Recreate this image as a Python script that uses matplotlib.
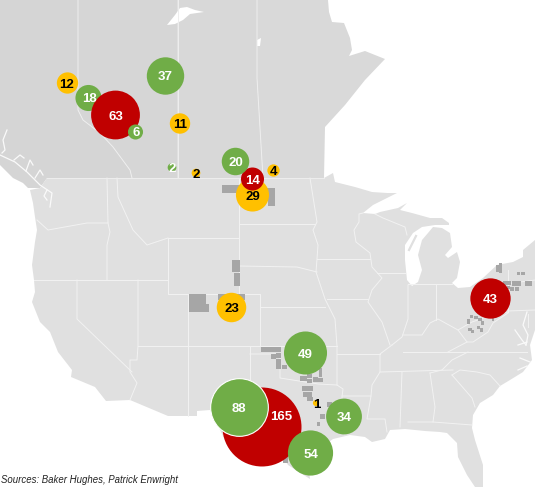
import numpy as np
import matplotlib
matplotlib.use("Agg")
import matplotlib.pyplot as plt
from matplotlib.patches import Polygon, Rectangle

# ---- rig counts -------------------------------------------------------
values = [165, 88, 63, 18, 12, 6, 37, 11, 2, 2, 20, 29, 14, 4, 23, 49, 1, 34, 54, 43]
kinds = ["oil_red", "green", "oil_red", "green", "amber", "green", "green", "amber", "green", "amber",
         "green", "amber", "oil_red", "amber", "amber", "green", "amber", "green", "green", "oil_red"]
xpos = [262, 239, 115.5, 88.5, 67.5, 135.5, 165.5, 180, 172, 196,
        235.5, 252.5, 252.5, 273.5, 231.5, 305.5, 316, 344, 310.5, 490.5]
ypos = [427, 407, 115, 98, 83, 132, 76, 123.5, 167.5, 173,
        161.5, 195, 179, 170.5, 307.5, 353, 403, 416.5, 453, 298.5]
label_x = [281, 239, 115.5, 89.5, 67, 136, 165.5, 180, 172, 196,
           235.5, 252.5, 253, 273, 231.5, 305.5, 316.5, 344, 310.5, 490.5]
label_y = [415, 407, 115, 98, 83, 132, 76, 123.5, 167.5, 173,
           161.5, 196, 179, 170.5, 307.5, 353, 403, 416.5, 453, 298.5]
palette = {"oil_red": "#C00000", "green": "#70AD47", "amber": "#FFC000"}
text_col = {"oil_red": "white", "green": "white", "amber": "black"}
draw_order = [11, 12, 10, 13, 3, 2, 5, 4, 6, 7, 8, 9, 14, 15, 0, 1, 16, 17, 18, 19]
source = "Sources: Baker Hughes, Patrick Enwright"

# ---- base map (pixel tracing of the reference) -------------------------
canada_bc = [(0,0),(78,0),(78,110),(83,120),(100,133),(113,147),(130,170),(132,178),(47,178),(40,188),(28,188),
             (23,183),(13,178),(0,165)]
canada_ab = [(78,0),(177.5,0),(177.5,178),(132,178),(130,170),(113,147),(100,133),(83,120),(78,110)]
canada_sk = [(177.5,0),(257,0),(257,78),(263,178),(177.5,178)]
canada_mb = [(257,0),(328,0),(329,12),(332,22),(344,23),(350,38),(352,50),(349,56),(365,51),(385,59),
             (365,80),(345,105),(325,127),(324,178),(263,178),(257,78)]
athabasca = [(167,25),(175,15),(180,8),(187,7),(195,10),(204,12),(190,14),(183,20),(175,24)]
reindeer = [(257,40),(261,38),(260,46),(257,46)]

usa = [(47,178),(309,178),(324,178),(333,173),(335,182),(355,187),(372,192),(387,193),(397,193),(373,205),(363,213),
       (375,214),(380,212),(398,208),(407,203),(400,210),(412,213),(430,218),(442,218),(449,223),(449,225),(435,225),
       (422,227),(413,233),(405,245),(405,260),(407,280),(412,286),(418,282),(422,270),(418,255),(422,240),(428,233),
       (433,227),(442,228),(450,233),(452,247),(445,255),(448,258),(457,252),(460,262),(457,278),(452,283),(458,288),
       (470,287),(483,278),(497,265),(513,262),(523,257),(523,250),(535,240),
       (535,330),(530,345),(532,360),(523,372),(510,380),(500,386),(493,395),(480,403),(473,415),(472,428),
       (475,440),(483,465),(483,487),(475,487),(467,475),(458,457),(457,443),(447,433),(440,432),(425,431),
       (405,429),(390,430),(385,439),(372,442),(365,437),(350,435),(333,439),(318,450),(308,462),(310,479),
       (288,465),(280,452),(265,445),(250,440),(225,440),(210,410),(197,411),(197,416),(168,416),(130,400),
       (106,401),(95,387),(71,377),(72,370),(58,352),(50,332),(40,322),(32,302),(35,292),(34,280),(32,265),
       (35,242),(37,230),(35,217),(33,203),(30,190),(40,188)]
door_peninsula = [(409,250),(416,236)]
inlets = [
    [(0,155),(15,162),(27,172),(40,185),(52,193),(50,207)],
    [(7,130),(3,140),(5,150),(2,153)],
    [(14,160),(20,155),(24,158)],
    [(26,171),(30,160),(33,165)],
    [(35,178),(40,170),(43,175)],
    [(47,190),(44,196),(47,200)],
    [(527,312),(523,325),(528,335),(526,345)],
    [(515,330),(522,340),(526,345)],
    [(518,345),(527,342)],
    [(520,358),(530,362)],
    [(518,370),(527,366)],
]
borders = [
    [(107,178),(108,223),(110,232),(107,245),(107,280)],
    [(117,178),(118,197),(133,230),(147,245),(168,238)],
    [(37,220),(48,230),(87,223),(108,223)],
    [(34,280),(168,280)],
    [(138,280),(138,346),(137,360),(130,360),(130,372),(137,383),(130,400)],
    [(77,280),(77,319),(132,372)],
    [(138,346),(250,346)],
    [(188,294),(188,416)],
    [(168,238),(168,294),(260,294),(260,346)],
    [(168,238),(239,238),(239,294)],
    [(239,178),(239,238)],
    [(239,224),(315,224)],
    [(310,178),(317,222),(313,230),(318,245),(317,259),(316,272),(325,299),(335,319),(337,346),(337,385)],
    [(239,266),(297,267),(317,272)],
    [(317,259),(370,259)],
    [(260,307),(325,307)],
    [(250,346),(337,346)],
    [(337,354),(380,354)],
    [(250,346),(250,410)],
    [(250,354),(280,354),(280,378),(318,384),(337,385),(343,389),(342,397),(343,409),(345,435)],
    [(342,396),(371,396),(367,419),(385,419),(387,432)],
    [(392,345),(380,354),(380,372),(372,385),(371,396)],
    [(380,372),(453,370)],
    [(402,372),(400,427)],
    [(430,373),(435,407),(433,422)],
    [(408,422),(433,422),(472,425)],
    [(403,352),(527,352)],
    [(327,299),(368,299)],
    [(363,213),(359,214),(359,222),(354,230),(356,242),(370,253),(372,267),(382,278),(372,290),(368,302),
     (382,322),(390,345)],
    [(377,273),(405,273)],
    [(408,285),(408,319),(402,337),(392,345)],
    [(436,284),(436,320)],
    [(408,284),(452,284)],
    [(403,335),(422,335),(430,323),(438,319),(458,330),(472,322),(492,315),(508,312)],
    [(458,330),(467,342),(473,342),(488,332),(493,323),(508,313)],
    [(467,342),(448,352)],
    [(468,352),(452,360),(442,370),(430,373)],
    [(452,375),(460,370),(477,372),(490,375),(500,386)],
    [(452,375),(472,398),(475,407)],
    [(505,284),(535,280)],
    [(508,270),(508,312)],
    [(508,311),(535,310)],
    [(375,214),(383,218),(405,227),(407,235)],
    [(528,314),(528,327)],
]
shale_rect = [(222,185,20,8),(265,188,10,8),(268,196,7,10),(232,260,8,12),(234,273,6,13),
              (189,294,17,10),(189,304,20,8),(218,294,27,6),
              (261,347,10,5),(271,347,10,5),(271,354,5,5),(276,353,5,5),(276,359,5,5),(276,364,5,5),(282,365,5,4),
              (300,376,7,5),(307,374,5,4),(307,379,5,4),(313,377,5,5),(318,378,5,4),(319,368,3,9),
              (302,386,5,5),(307,386,6,5),(303,392,4,5),(307,392,5,5),(307,397,6,4),
              (320,414,5,5),(317,422,3,4),(327,402,5,5),
              (278,449,10,6),(280,454,8,5),(283,459,5,4),
              (496,265,5,7),(499,263,3,10),(517,272,3,3),(521,272,4,3),(503,281,8,4),(512,281,9,5),(525,281,7,5),
              (510,287,4,4),(515,287,4,4),(507,286,3,3),
              (467,319,3,5),(470,315,3,3),(474,316,4,3),(478,318,4,3),(481,321,3,4),(468,328,4,3),(471,330,3,3),
              (477,326,3,3),(480,328,3,4),(492,318,2,3)]

ink = "#a6a6a6"
fig = plt.figure(figsize=(5.35, 4.87), dpi=100, facecolor="white")
ax = fig.add_axes([0, 0, 1, 1])
ax.set_xlim(0, 535); ax.set_ylim(487, 0); ax.axis("off")

for poly, shade in [(canada_bc, "#d5d5d5"), (canada_ab, "#d6d6d6"), (canada_sk, "#d8d8d8"), (canada_mb, "#d9d9d9")]:
    ax.add_patch(Polygon(poly, closed=True, fc=shade, ec="none", zorder=1))
ax.add_patch(Polygon(usa, closed=True, fc="#e0e0e0", ec="none", zorder=1))
for poly in (athabasca, reindeer):
    ax.add_patch(Polygon(poly, closed=True, fc="white", ec="none", zorder=2))
ax.plot(*np.array(door_peninsula).T, color="#e0e0e0", lw=1.6, zorder=2)
for line in inlets:
    a = np.array(line)
    ax.plot(a[:, 0], a[:, 1], color="#fafafa", lw=0.9, zorder=2, solid_joinstyle="round")
for line in borders:
    a = np.array(line)
    ax.plot(a[:, 0], a[:, 1], color="#f2f2f2", lw=0.7, zorder=2, solid_joinstyle="round")
for line in [[(78,0),(78,110),(83,120),(100,133),(113,147),(130,170),(132,178)],
             [(177.5,0),(177.5,178)], [(257,0),(257,78),(263,178)], [(47,178),(324,178)]]:
    a = np.array(line)
    ax.plot(a[:, 0], a[:, 1], color="#eeeeee", lw=0.7, zorder=2)
for (x0, y0, w, h) in shale_rect:
    ax.add_patch(Rectangle((x0, y0), w, h, fc=ink, ec="none", zorder=3))

# ---- bubbles ----------------------------------------------------------
area_per_rig = 19.6
for z, i in enumerate(draw_order):
    edge = "white" if values[i] == 88 else "none"
    ax.scatter(xpos[i], ypos[i], s=area_per_rig * values[i], color=palette[kinds[i]], edgecolors=edge,
               linewidths=0.8, zorder=5 + z * 0.01)
for i in range(len(values)):
    ax.text(label_x[i], label_y[i], str(values[i]), color=text_col[kinds[i]], ha="center", va="center_baseline",
            fontsize=9.5, fontweight="bold", family=["Liberation Sans", "DejaVu Sans"], zorder=8)
ax.text(1, 480, source, fontsize=6.9, style="italic", family=["Liberation Sans", "DejaVu Sans"],
        color="#222222", ha="left", va="center", zorder=8)
fig.savefig("out.png", dpi=100, facecolor="white")
